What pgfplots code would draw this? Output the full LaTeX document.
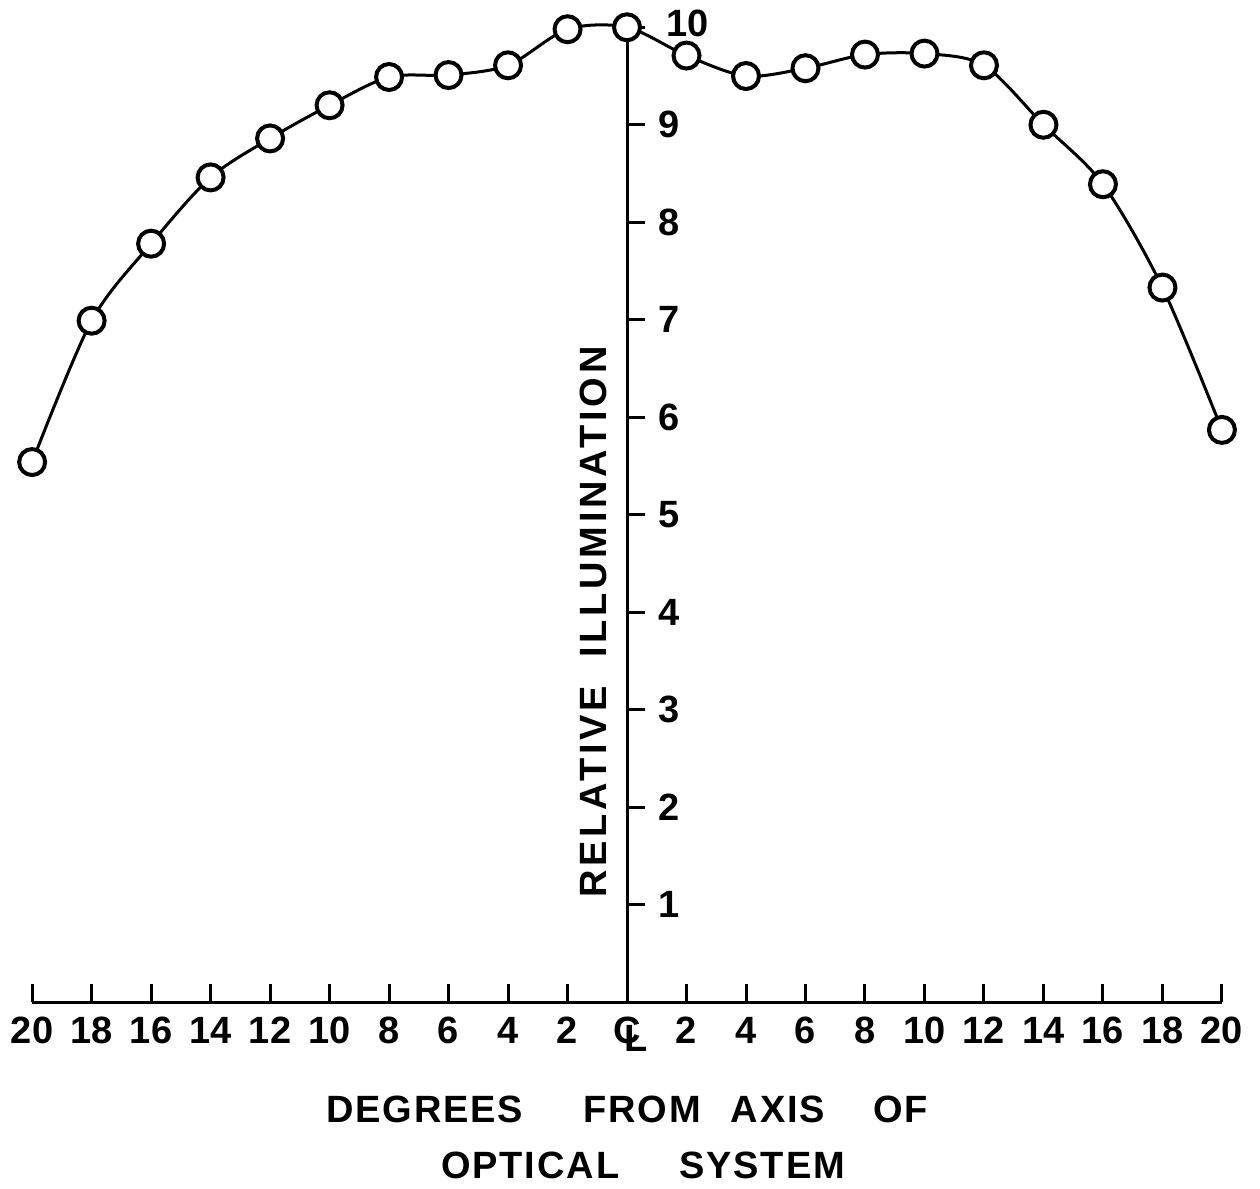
\documentclass[border=0pt]{standalone}
\usepackage{pgfplots}
\pgfplotsset{compat=1.18}
\usepackage{fontspec}
\setmainfont{Liberation Sans}
\newfontfamily\xlabfont[LetterSpace=5]{Liberation Sans}
\newfontfamily\ylabfont[LetterSpace=10]{Liberation Sans}
\newcommand{\CL}{\makebox[0pt][l]{\kern0.3em\raisebox{-0.2em}{L}}C}
\begin{document}
\begin{tikzpicture}
\begin{axis}[
  x=14.875pt, y=48.75pt,
  xmin=-20, xmax=20, ymin=0, ymax=10,
  axis x line=bottom, axis y line=middle,
  axis line style={-, line width=1.5pt},
  hide obscured x ticks=false,
  hide obscured y ticks=false,
  xtick={-20,-18,...,20},
  xticklabels={20,18,16,14,12,10,8,6,4,2,\CL,2,4,6,8,10,12,14,16,18,20},
  ytick={1,2,3,4,5,6,7,8,9,10},
  yticklabels={1,2,3,4,5,6,7,8,9,{\raisebox{4pt}{\hspace{4pt}10}}},
  tick align=inside,
  major tick length=9pt,
  tick style={line width=1.5pt, black},
  tick label style={font=\fontsize{19}{22}\selectfont\bfseries},
  yticklabel style={anchor=west, xshift=12pt},
  xticklabel style={yshift=-4pt},
  xlabel={DEGREES\hspace{30pt}FROM\hspace{15pt}AXIS\hspace{24pt}OF\\[6pt]\hspace*{16pt}OPTICAL\hspace{30pt}SYSTEM},
  xlabel style={at={(axis cs:0,-0.96)}, anchor=north, align=center, font=\xlabfont\fontsize{19}{22}\selectfont\bfseries, inner sep=0pt},
  ylabel={RELATIVE\hspace{14pt}ILLUMINATION},
  ylabel style={at={(axis cs:-1.14,3.90)}, anchor=center, rotate=90, font=\ylabfont\fontsize{19}{22}\selectfont\bfseries, inner sep=0pt},
  clip=false,
]
\addplot[black, line width=1.5pt, smooth, tension=0.5, mark=*, mark size=6.5pt,
  mark options={fill=white, draw=black, line width=2pt}]
coordinates {
(-20,5.54) (-18,6.99) (-16,7.78) (-14,8.46) (-12,8.86) (-10,9.20) (-8,9.49)
(-6,9.51) (-4,9.61) (-2,9.98) (0,10.0) (2,9.71) (4,9.50) (6,9.58) (8,9.72)
(10,9.73) (12,9.61) (14,9.0) (16,8.39) (18,7.33) (20,5.87)
};
\coordinate (bbA) at (axis cs:-21.08,-1.91);
\coordinate (bbB) at (axis cs:21.28,10.28);
\end{axis}
\pgfresetboundingbox
\useasboundingbox (bbA) rectangle (bbB);
\end{tikzpicture}
\end{document}
